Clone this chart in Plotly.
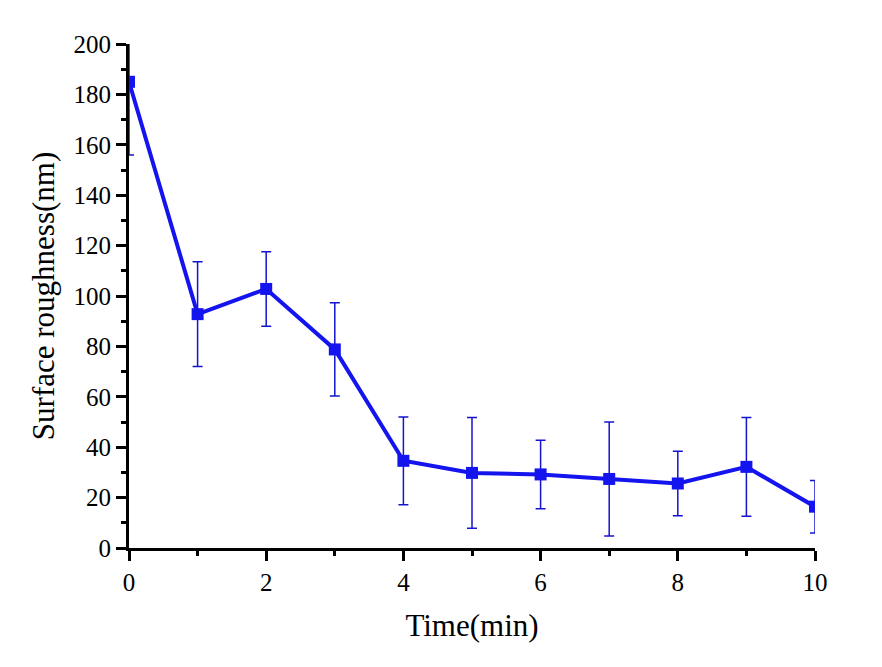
import plotly.graph_objects as go

time_min = [0, 1, 2, 3, 4, 5, 6, 7, 8, 9, 10]
roughness = [185, 92.8, 102.8, 78.8, 34.6, 29.8, 29.2, 27.4, 25.6, 32.2, 16.4]
roughness_err = [29, 20.8, 14.8, 18.5, 17.4, 22, 13.6, 22.6, 12.8, 19.6, 10.4]

fig = go.Figure()
fig.add_trace(go.Scatter(
    x=time_min, y=roughness,
    mode="lines+markers",
    line=dict(color="#1414EE", width=4),
    marker=dict(symbol="square", size=12, color="#1414EE"),
    error_y=dict(type="data", array=roughness_err, visible=True,
                 color="#1414D0", thickness=1.5, width=5),
    cliponaxis=True,
    showlegend=False,
))

font_family = "Liberation Serif, Times New Roman, serif"
fig.update_layout(
    width=882, height=667,
    margin=dict(l=121, r=75, t=36, b=127),
    paper_bgcolor="white", plot_bgcolor="white",
    font=dict(family=font_family, color="black"),
    xaxis=dict(
        range=[0, 10], tickmode="linear", tick0=0, dtick=2,
        ticks="outside", ticklen=10, tickwidth=2.5, tickcolor="black",
        showline=True, linecolor="black", linewidth=3,
        showgrid=False, zeroline=False, automargin=False,
        tickfont=dict(size=25, family=font_family),
        title=dict(text="Time(min)", font=dict(size=31, family=font_family), standoff=20),
        minor=dict(dtick=1, ticks="outside", ticklen=5, tickwidth=2.5, tickcolor="black", showgrid=False),
    ),
    yaxis=dict(
        range=[0, 200], tickmode="linear", tick0=0, dtick=20,
        ticks="outside", ticklen=10, tickwidth=2.5, tickcolor="black",
        showline=True, linecolor="black", linewidth=3,
        showgrid=False, zeroline=False, automargin=False,
        tickfont=dict(size=25, family=font_family),
        title=dict(text="Surface roughness(nm)", font=dict(size=31, family=font_family), standoff=10),
        minor=dict(dtick=10, ticks="outside", ticklen=5, tickwidth=2.5, tickcolor="black", showgrid=False),
    ),
)

fig.write_html("out.html")
